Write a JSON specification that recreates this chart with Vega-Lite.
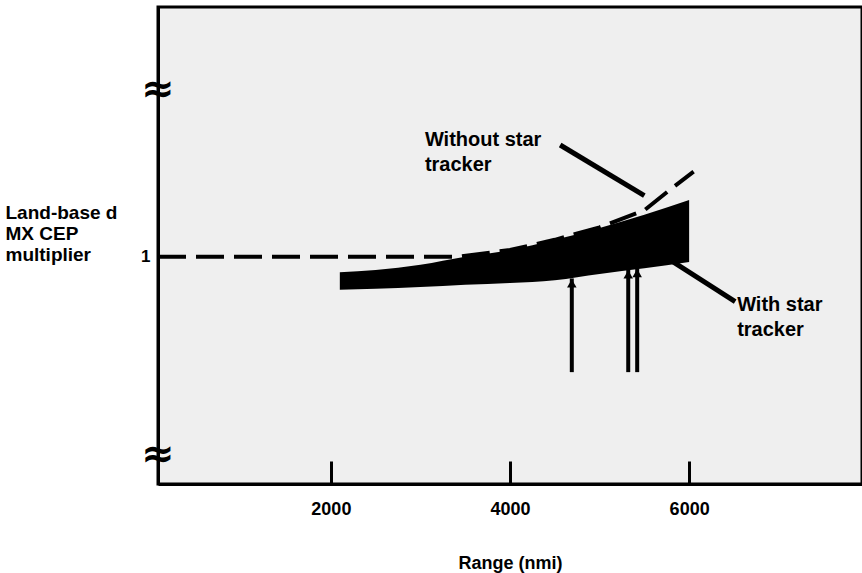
{
  "$schema": "https://vega.github.io/schema/vega-lite/v6.json",
  "width": 704,
  "height": 477,
  "autosize": {"type": "none"},
  "padding": {"left": 158, "top": 7, "right": 0, "bottom": 89},
  "background": "white",
  "config": {
    "view": {"stroke": "black", "strokeWidth": 3, "fill": "#efefef"},
    "font": "Liberation Sans"
  },
  "datasets": {
    "band": [
      {"range": 2100, "lower": 0.942, "upper": 0.973},
      {"range": 2500, "lower": 0.944, "upper": 0.977},
      {"range": 3000, "lower": 0.947, "upper": 0.986},
      {"range": 3500, "lower": 0.951, "upper": 1.0},
      {"range": 4000, "lower": 0.954, "upper": 1.012},
      {"range": 4500, "lower": 0.959, "upper": 1.03},
      {"range": 5000, "lower": 0.97, "upper": 1.051},
      {"range": 5500, "lower": 0.98, "upper": 1.074},
      {"range": 6000, "lower": 0.991, "upper": 1.1}
    ],
    "without": [
      {"range": 70, "cep": 1.0},
      {"range": 3400, "cep": 1.0},
      {"range": 4000, "cep": 1.012},
      {"range": 4500, "cep": 1.03},
      {"range": 5000, "cep": 1.052},
      {"range": 5500, "cep": 1.082},
      {"range": 5800, "cep": 1.12},
      {"range": 6050, "cep": 1.15}
    ],
    "arrows": [
      {"range": 4690, "from": 0.797, "to": 0.962},
      {"range": 5320, "from": 0.797, "to": 0.978},
      {"range": 5420, "from": 0.797, "to": 0.98}
    ],
    "pointers": [
      {"x1": 4560, "y1": 1.197, "x2": 5500, "y2": 1.108},
      {"x1": 5821, "y1": 0.991, "x2": 6514, "y2": 0.921}
    ],
    "labels": [
      {"range": 3050, "cep": 1.206, "text": "Without star"},
      {"range": 3050, "cep": 1.162, "text": "tracker"},
      {"range": 6536, "cep": 0.915, "text": "With star"},
      {"range": 6536, "cep": 0.871, "text": "tracker"}
    ],
    "breaks": [
      {"range": 70, "cep": 1.294},
      {"range": 70, "cep": 0.651}
    ]
  },
  "layer": [
    {
      "data": {"name": "without"},
      "mark": {"type": "line", "color": "black", "strokeWidth": 4, "strokeDash": [28, 10], "clip": true},
      "encoding": {
        "x": {
          "field": "range", "type": "quantitative",
          "scale": {"domain": [70, 7930], "nice": false, "zero": false},
          "axis": {
            "values": [2000, 4000, 6000],
            "format": "d",
            "grid": false,
            "title": "Range  (nmi)",
            "titleFont": "Liberation Sans",
            "titleFontSize": 18,
            "titleFontWeight": "bold",
            "titleColor": "black",
            "titlePadding": 36,
            "labelFont": "Liberation Sans",
            "labelFontSize": 18,
            "labelFontWeight": "bold",
            "labelColor": "black",
            "labelPadding": 39,
            "tickSize": -23,
            "tickWidth": 3,
            "tickColor": "black",
            "domainColor": "black",
            "domainWidth": 3
          }
        },
        "y": {
          "field": "cep", "type": "quantitative",
          "scale": {"domain": [0.6, 1.44], "nice": false, "zero": false},
          "axis": {
            "values": [1],
            "format": "d",
            "grid": false,
            "ticks": false,
            "labelFont": "Liberation Sans",
            "labelFontSize": 17,
            "labelFontWeight": "bold",
            "labelColor": "black",
            "labelPadding": 8,
            "domainColor": "black",
            "domainWidth": 3,
            "title": ["Land-base d", "MX CEP", "multiplier"],
            "titleAngle": 0,
            "titleAlign": "left",
            "titleBaseline": "top",
            "titleX": -153,
            "titleY": 196,
            "titleFont": "Liberation Sans",
            "titleFontSize": 19,
            "titleFontWeight": "bold",
            "titleColor": "black",
            "titleLineHeight": 21
          }
        }
      }
    },
    {
      "data": {"name": "band"},
      "mark": {"type": "area", "color": "black", "opacity": 1, "interpolate": "monotone"},
      "encoding": {
        "x": {"field": "range", "type": "quantitative"},
        "y": {"field": "lower", "type": "quantitative"},
        "y2": {"field": "upper"}
      }
    },
    {
      "data": {"name": "arrows"},
      "mark": {"type": "rule", "color": "black", "strokeWidth": 4},
      "encoding": {
        "x": {"field": "range", "type": "quantitative"},
        "y": {"field": "from", "type": "quantitative"},
        "y2": {"field": "to"}
      }
    },
    {
      "data": {"name": "arrows"},
      "mark": {"type": "point", "shape": "triangle-up", "filled": true, "color": "black", "size": 90, "opacity": 1, "yOffset": 5},
      "encoding": {
        "x": {"field": "range", "type": "quantitative"},
        "y": {"field": "to", "type": "quantitative"}
      }
    },
    {
      "data": {"name": "pointers"},
      "mark": {"type": "rule", "color": "black", "strokeWidth": 5},
      "encoding": {
        "x": {"field": "x1", "type": "quantitative"},
        "y": {"field": "y1", "type": "quantitative"},
        "x2": {"field": "x2"},
        "y2": {"field": "y2"}
      }
    },
    {
      "data": {"name": "labels"},
      "mark": {"type": "text", "align": "left", "baseline": "middle", "font": "Liberation Sans", "fontWeight": "bold", "fontSize": 20, "color": "black"},
      "encoding": {
        "x": {"field": "range", "type": "quantitative"},
        "y": {"field": "cep", "type": "quantitative"},
        "text": {"field": "text"}
      }
    },
    {
      "data": {"name": "breaks"},
      "mark": {"type": "text", "align": "center", "baseline": "middle", "font": "DejaVu Sans", "fontWeight": "bold", "fontSize": 40, "color": "black", "clip": false},
      "encoding": {
        "x": {"field": "range", "type": "quantitative"},
        "y": {"field": "cep", "type": "quantitative"},
        "text": {"value": "≈"}
      }
    }
  ]
}
